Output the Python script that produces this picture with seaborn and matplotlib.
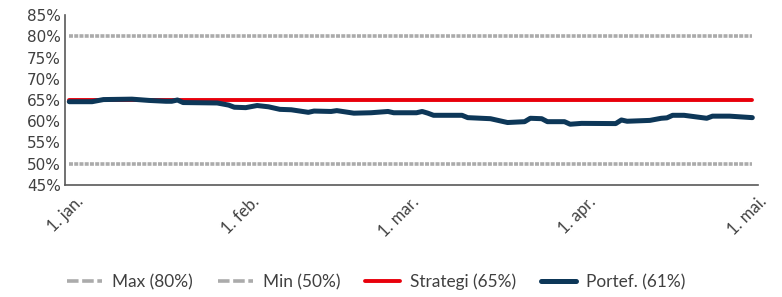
import pandas as pd
import matplotlib.pyplot as plt
import matplotlib.ticker as mticker
import seaborn as sns

# limits / strategy
max_val = 80
min_val = 50
strategy_val = 65
line_span = ["2020-12-31", "2021-04-30"]

# portfolio share
port_dates = [
    "2020-12-31", "2021-01-04", "2021-01-06", "2021-01-11", "2021-01-14",
    "2021-01-17", "2021-01-18", "2021-01-19", "2021-01-20", "2021-01-26",
    "2021-01-28", "2021-01-29", "2021-01-31", "2021-02-02", "2021-02-04",
    "2021-02-06", "2021-02-08", "2021-02-11", "2021-02-12", "2021-02-15",
    "2021-02-16", "2021-02-18", "2021-02-19", "2021-02-22", "2021-02-25",
    "2021-02-26", "2021-03-02", "2021-03-03", "2021-03-04", "2021-03-05",
    "2021-03-10", "2021-03-11", "2021-03-15", "2021-03-18", "2021-03-21",
    "2021-03-22", "2021-03-24", "2021-03-25", "2021-03-28", "2021-03-29",
    "2021-03-31", "2021-04-06", "2021-04-07", "2021-04-08", "2021-04-12",
    "2021-04-14", "2021-04-15", "2021-04-16", "2021-04-18", "2021-04-22",
    "2021-04-23", "2021-04-26", "2021-04-30",
]
port_vals = [
    64.6, 64.6, 65.1, 65.2, 64.9,
    64.7, 64.7, 65.0, 64.4, 64.3,
    63.8, 63.3, 63.2, 63.7, 63.4,
    62.8, 62.7, 62.1, 62.4, 62.3,
    62.5, 62.1, 61.9, 62.0, 62.3,
    62.0, 62.0, 62.3, 61.9, 61.4,
    61.4, 60.85, 60.6, 59.7, 59.9,
    60.7, 60.6, 59.9, 59.9, 59.3,
    59.5, 59.45, 60.3, 60.0, 60.2,
    60.7, 60.8, 61.4, 61.4, 60.7,
    61.2, 61.2, 60.85,
]

month_ticks = ["2021-01-01", "2021-02-01", "2021-03-01", "2021-04-01", "2021-05-01"]
month_labels = ["1. jan.", "1. feb.", "1. mar.", "1. apr.", "1. mai."]

gray = "#ABABAB"
red = "#E8000B"
navy = "#0D3758"
text_col = "#404040"
narrow = ["Lato", "DejaVu Sans"]

sns.set_style("white")

port_df = pd.DataFrame({"date": pd.to_datetime(port_dates), "val": port_vals})
span = pd.to_datetime(line_span)

fig = plt.figure(figsize=(7.82, 2.97), dpi=100)
ax = fig.add_axes([65 / 782, 1 - 185 / 297, (758 - 65) / 782, 170 / 297])

sns.lineplot(x=span, y=[max_val] * 2, ax=ax, color=gray, lw=2.6, label="Max (80%)")
sns.lineplot(x=span, y=[min_val] * 2, ax=ax, color=gray, lw=2.6, label="Min (50%)")
for ln in ax.lines[:2]:
    ln.set_dashes([1.1, 0.35])
sns.lineplot(x=span, y=[strategy_val] * 2, ax=ax, color=red, lw=2.8,
             label="Strategi (65%)")
sns.lineplot(data=port_df, x="date", y="val", ax=ax, color=navy, lw=3.6,
             label="Portef. (61%)")

ax.set_ylim(45, 85)
ax.set_xlim(pd.Timestamp("2020-12-30 06:00"), pd.Timestamp("2021-05-01"))
ax.yaxis.set_major_locator(mticker.MultipleLocator(5))
ax.yaxis.set_major_formatter(mticker.FuncFormatter(lambda v, p: f"{v:.0f}%"))
ax.set_xticks(pd.to_datetime(month_ticks))
ax.set_xticklabels(month_labels, rotation=45, ha="right", rotation_mode="anchor",
                   fontsize=12, color=text_col, family=narrow)
ax.tick_params(axis="y", labelsize=11, labelcolor=text_col, direction="in",
               length=7, width=1, color="#595959", pad=3)
ax.tick_params(axis="x", direction="in", length=4, width=1, color="#595959", pad=6)
ax.set_xlabel("")
ax.set_ylabel("")
for s in ["top", "right"]:
    ax.spines[s].set_visible(False)
for s in ["left", "bottom"]:
    ax.spines[s].set_color("#595959")
    ax.spines[s].set_linewidth(1.2)

handles, labels = ax.get_legend_handles_labels()
ax.get_legend().remove()
leg = fig.legend(handles, labels, loc="center", ncol=4, frameon=False,
                 bbox_to_anchor=(0.481, 0.05), handlelength=2.03, handletextpad=0.58,
                 columnspacing=1.45, prop={"family": narrow, "size": 12.4})
for t in leg.get_texts():
    t.set_color(text_col)
for ln in leg.get_lines()[:2]:
    ln.set_dashes([3.2, 1.0])

fig.savefig("out.png", dpi=100)
